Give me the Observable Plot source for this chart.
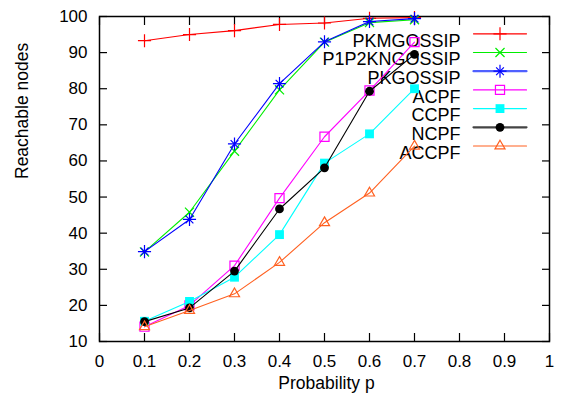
<!DOCTYPE html>
<html><head><meta charset="utf-8">
<script src="https://cdn.jsdelivr.net/npm/d3@7"></script>
<script src="https://cdn.jsdelivr.net/npm/@observablehq/plot@0.6"></script>
<style>body{margin:0;background:#fff}</style>
</head><body><div id="chart"></div>
<script>
// ---- data ----
const probability = [0.1, 0.2, 0.3, 0.4, 0.5, 0.6, 0.7];
const seriesNames = ["PKMGOSSIP", "P1P2KNGOSSIP", "PKGOSSIP", "ACPF", "CCPF", "NCPF", "ACCPF"];
const pkmgossip   = [93.3, 95.0, 96.1, 97.8, 98.2, 99.5, 99.7];
const p1p2kngossip = [34.8, 45.8, 62.7, 79.7, 92.9, 98.3, 99.1];
const pkgossip    = [34.9, 43.8, 64.7, 81.4, 93.0, 98.6, 99.4];
const acpf        = [14.1, 20.0, 31.0, 49.7, 66.7, 79.5, 92.9];
const ccpf        = [15.6, 21.1, 27.8, 39.6, 59.4, 67.5, 80.0];
const ncpf        = [15.5, 19.3, 29.5, 46.7, 58.1, 79.3, 89.5];
const accpf       = [14.1, 18.6, 23.2, 31.9, 42.9, 51.1, 64.1];
const xTicks = [0, 0.1, 0.2, 0.3, 0.4, 0.5, 0.6, 0.7, 0.8, 0.9, 1];
const xTickLabels = ["0", "0.1", "0.2", "0.3", "0.4", "0.5", "0.6", "0.7", "0.8", "0.9", "1"];
const yTicks = [10, 20, 30, 40, 50, 60, 70, 80, 90, 100];
const yTickLabels = ["10", "20", "30", "40", "50", "60", "70", "80", "90", "100"];
const xTitle = "Probability p";
const yTitle = "Reachable nodes";

// ---- styles ----
const seriesValues = [pkmgossip, p1p2kngossip, pkgossip, acpf, ccpf, ncpf, accpf];
const colors = ["#ff0000", "#00ee00", "#0000ff", "#ff00ff", "#00ffff", "#000000", "#ff6020"];
const markerSpecs = [
  [{symbol: "plus", r: 4.3, stroke: true}],
  [{symbol: "times", r: 4.2, stroke: true}],
  [{symbol: "plus", r: 4.3, stroke: true}, {symbol: "times", r: 3.6, stroke: true}],
  [{symbol: "square2", r: 5.8, stroke: true}],
  [{symbol: "square", r: 5.0, stroke: false}],
  [{symbol: "circle", r: 4.4, stroke: false}],
  [{symbol: "triangle2", r: 4.8, stroke: true}]
];
const FONT = "'Liberation Sans', Arial, sans-serif";
const lineShape = {draw(context, l) { context.moveTo(0, 0); context.lineTo(0, -l); }};

const marks = [];
// frame & axes
marks.push(Plot.frame({stroke: "black", strokeWidth: 1.5}));
marks.push(Plot.axisX(xTicks, {anchor: "bottom", tickSize: -8, fill: "none", label: null, strokeWidth: 1.2}));
marks.push(Plot.axisX(xTicks, {anchor: "top", tickSize: -8, fill: "none", label: null, strokeWidth: 1.2}));
marks.push(Plot.axisY(yTicks, {anchor: "left", tickSize: -8, fill: "none", label: null, strokeWidth: 1.2}));
marks.push(Plot.axisY(yTicks, {anchor: "right", tickSize: -8, fill: "none", label: null, strokeWidth: 1.2}));
marks.push(Plot.axisX(xTicks, {anchor: "bottom", tickSize: 0, tickPadding: 13, label: null,
  tickFormat: d => xTickLabels[xTicks.indexOf(d)]}));
marks.push(Plot.axisY(yTicks, {anchor: "left", tickSize: 0, tickPadding: 12, label: null,
  tickFormat: d => yTickLabels[yTicks.indexOf(d)]}));
marks.push(Plot.text([yTitle], {frameAnchor: "left", dx: -77, rotate: -90, text: d => d, fontSize: 17.5}));
marks.push(Plot.text([xTitle], {frameAnchor: "bottom", dy: 47, dx: 2, text: d => d, fontSize: 17.5}));

// legend
seriesNames.forEach((name, i) => {
  const dy = 17.3 + i * 18.7;
  marks.push(Plot.text([name], {frameAnchor: "top-right", dx: -89, dy, textAnchor: "end", text: d => d, fontSize: 18}));
  const lw = (i === 2 || i === 5) ? 2.2 : 1.2;
  const lc = i === 2 ? "#5060ff" : i === 5 ? "#444" : colors[i];
  marks.push(Plot.vector([name], {frameAnchor: "top-right", dx: -76, dy, length: 53, rotate: 90, anchor: "start",
    shape: lineShape, stroke: lc, strokeWidth: lw}));
  markerSpecs[i].forEach(m => {
    marks.push(Plot.dot([name], {frameAnchor: "top-right", dx: -49.5, dy, symbol: m.symbol, r: m.r,
      stroke: m.stroke ? colors[i] : "none", fill: m.stroke ? "none" : colors[i], strokeWidth: 1.2}));
  });
});

// series
seriesNames.forEach((name, i) => {
  const rows = probability.map((p, j) => ({p, v: seriesValues[i][j]}));
  marks.push(Plot.line(rows, {x: "p", y: "v", stroke: colors[i], strokeWidth: 1.1}));
  markerSpecs[i].forEach(m => {
    marks.push(Plot.dot(rows, {x: "p", y: "v", symbol: m.symbol, r: m.r,
      stroke: m.stroke ? colors[i] : "none", fill: m.stroke ? "none" : colors[i], strokeWidth: 1.2}));
  });
});

const chart = Plot.plot({
  width: 562, height: 401,
  marginLeft: 99, marginRight: 13, marginTop: 16, marginBottom: 60,
  style: {fontFamily: FONT, fontSize: "17px", color: "black", background: "white"},
  x: {domain: [0, 1]},
  y: {domain: [10, 100]},
  marks
});
document.getElementById("chart").appendChild(chart);
</script>
</body></html>
